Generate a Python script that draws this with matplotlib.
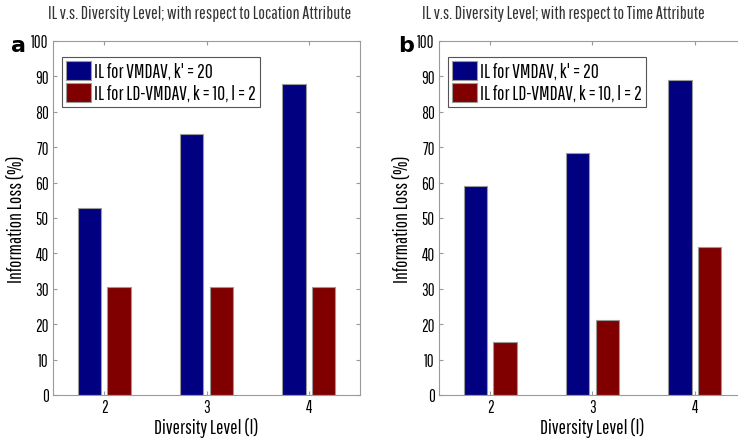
import numpy as np
import matplotlib.pyplot as plt

plt.rcParams['font.family'] = ['Pathway Gothic One', 'DejaVu Sans']

levels = [2, 3, 4]
vmdav_loc = [52.8, 73.7, 87.9]
ldvmdav_loc = [30.5, 30.5, 30.5]
vmdav_time = [59.0, 68.4, 89.0]
ldvmdav_time = [14.9, 21.1, 41.8]

titles = ['IL v.s. Diversity Level; with respect to Location Attribute',
          'IL v.s. Diversity Level; with respect to Time Attribute']
panel_tags = ['a', 'b']
labels = ["IL for VMDAV, k' = 20", 'IL for LD-VMDAV, k = 10, l = 2']

fig = plt.figure(figsize=(7.38, 4.39), dpi=100)
W, H = 738, 439
# axes boxes in pixels: left, right, top, bottom
boxes = [(53, 360, 42, 396), (439, 746, 42, 396)]

x = np.array(levels)
w = 0.23
grey = '#9a9a9a'

for i, (blue, red) in enumerate([(vmdav_loc, ldvmdav_loc), (vmdav_time, ldvmdav_time)]):
    l, r, t, b = boxes[i]
    ax = fig.add_axes([l / W, 1 - b / H, (r - l) / W, (b - t) / H])
    ax.bar(x - 0.145, blue, w, color='#000080', edgecolor=grey, linewidth=0.8, label=labels[0])
    ax.bar(x + 0.145, red, w, color='#800000', edgecolor=grey, linewidth=0.8, label=labels[1])
    ax.set_xlim(1.5, 4.5)
    ax.set_ylim(0, 100)
    ax.set_xticks(levels)
    ax.set_yticks(range(0, 101, 10))
    ax.tick_params(direction='in', top=True, right=True, color=grey, length=3,
                   labelsize=12, pad=3)
    for s in ax.spines.values():
        s.set_color(grey)
    ax.set_xlabel('Diversity Level (l)', fontsize=14, labelpad=1)
    ax.set_ylabel('Information Loss (%)', fontsize=14, labelpad=4)
    leg = ax.legend(loc='upper left', bbox_to_anchor=(9 / (r - l), 1 - 16 / (b - t)),
                    borderaxespad=0, fontsize=14,
                    handlelength=1.3, handleheight=1.1, handletextpad=0.15,
                    borderpad=0.2, labelspacing=0.12, fancybox=False,
                    edgecolor='#555555', framealpha=1)
    leg.get_frame().set_linewidth(0.8)
    fig.text((200 if i == 0 else 563) / W, 1 - 14 / H, titles[i], ha='center', va='center',
             fontsize=13, color='#333333')
    fig.text((11 if i == 0 else 398) / W, 1 - 46 / H, panel_tags[i], ha='left', va='center',
             fontsize=16, fontweight='bold', family='DejaVu Sans')

fig.savefig('out.png', dpi=100)
